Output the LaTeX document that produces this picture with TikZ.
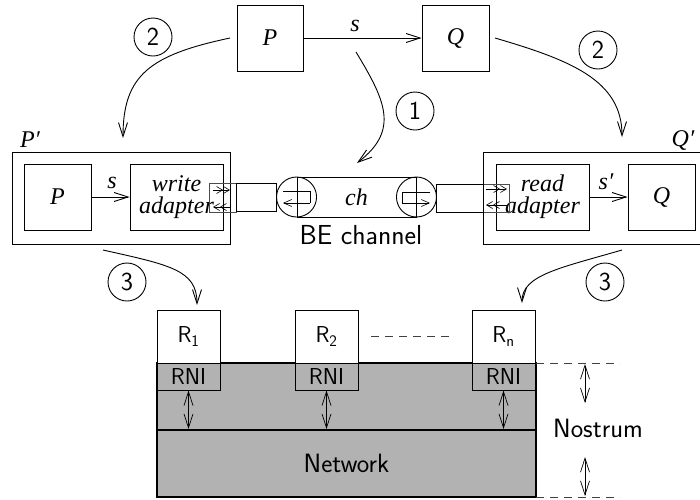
\documentclass[tikz,border=0pt]{standalone}
\usepackage{fontspec}
\newfontfamily\tms{Liberation Serif}
\usetikzlibrary{arrows.meta}
\begin{document}
\begin{tikzpicture}[x=1pt,y=-1pt,line width=0.9pt,
  box/.style={draw, inner sep=0pt, font=\tms\itshape\fontsize{24}{22}\selectfont, align=center},
  lab/.style={inner sep=0pt, font=\tms\itshape\fontsize{24}{22}\selectfont},
  sans/.style={inner sep=0pt, font=\sffamily\fontsize{26.5}{30}\selectfont},
  num/.style={draw, circle, minimum size=38pt, inner sep=0pt, font=\sffamily\fontsize{26}{30}\selectfont},
  arr/.style={-{Straight Barb[length=14pt,width=9pt]}},
  dbl/.style={-{Straight Barb[length=6pt,width=7pt]Straight Barb[length=6pt,width=7pt]}, line width=0.6pt},
  sarr/.style={-{Straight Barb[length=8pt,width=7pt]}, line width=0.6pt},
  both/.style={{Straight Barb[length=14pt,width=9pt]}-{Straight Barb[length=14pt,width=9pt]}, line width=0.7pt},
  port/.style={draw=black!70, line width=0.6pt, inner sep=0pt},
  dsh/.style={dash pattern=on 8pt off 6pt, line width=0.7pt, draw=black!75},
  rbox/.style={draw, inner sep=0pt, minimum width=63pt, font=\sffamily\fontsize{23}{26}\selectfont}
]
\useasboundingbox (0,0) rectangle (700,499);

% top
\node[box, minimum width=66pt, minimum height=66pt] (P) at (270,38) {P};
\node[box, minimum width=67pt, minimum height=66pt] (Q) at (455.5,38) {Q};
\draw[arr] (P) -- (Q);
\node[lab] (s1) at (355,26) {s};

% P'
\node[draw, minimum width=218pt, minimum height=92pt, inner sep=0pt] (Pp) at (121,198) {};
\node[lab] (Pplab) at (30,140) {P′};
\node[box, minimum width=67pt, minimum height=66pt] (Pin) at (57.5,197) {P};
\node[box, minimum width=93pt, minimum height=66pt] (wa) at (176.5,197) {write\\adapter};
\draw[arr] (Pin) -- (wa);
\node[lab] (s2) at (112,183) {s};

% Q'
\node[draw, minimum width=224pt, minimum height=92pt, inner sep=0pt] (Qp) at (595,198) {};
\node[lab] (Qplab) at (683,140) {Q′};
\node[box, minimum width=93pt, minimum height=66pt] (ra) at (542.5,197) {read\\adapter};
\node[box, minimum width=67pt, minimum height=66pt] (Qin) at (661.5,197) {Q};
\draw[arr] (ra) -- (Qin);
\node[lab] (s3) at (606,182) {s′};

% ports and connectors
\node[port, minimum width=27pt, minimum height=29pt] (pl) at (222.5,197.5) {};
\node[port, minimum width=26pt, minimum height=28pt] (pr) at (496,198) {};
\node[draw, inner sep=0pt, minimum width=40pt, minimum height=28pt] (cl) at (256,197) {};
\node[draw, inner sep=0pt, minimum width=47pt, minimum height=28pt] (cr) at (459.5,198) {};
\draw[dbl] (213,190) -- (230,190);
\draw[dbl] (230,207) -- (213,207);
\draw[dbl] (486,189) -- (507,189);
\draw[dbl] (507,205) -- (486,205);

% channel
\node[draw, inner sep=0pt, minimum width=119pt, minimum height=40pt, font=\tms\itshape\fontsize{24}{22}\selectfont] (ch) at (356.5,197) {ch};
\node[draw, circle, inner sep=0pt, minimum size=40pt] (chL) at (ch.west) {};
\node[draw, circle, inner sep=0pt, minimum size=40pt] (chR) at (ch.east) {};
\draw[line width=0.6pt] (283,191) -- (310,191) -- (310,203);
\draw[sarr] (310,203) -- (283,203);
\draw[line width=0.6pt] (430,192) -- (402,192) -- (402,203);
\draw[sarr] (402,203) -- (430,203);
\node[inner sep=0pt, font=\sffamily\fontsize{27.5}{30}\selectfont] (be) at (361,235) {BE channel};

% circled numbers
\node[num] (n1) at (415,111) {1};
\node[num] (n2l) at (153,37) {2};
\node[num] (n2r) at (598,50) {2};
\node[num] (n3l) at (127,282) {3};
\node[num] (n3r) at (605,282) {3};

% curved arrows
\coordinate (a1s) at (356,52);
\coordinate (a1e) at (357,163);
\draw[arr] (a1s) .. controls (385,100) and (400,130) .. (a1e);
\coordinate (a2ls) at (230,38);
\coordinate (a2le) at (123,138);
\draw[arr] (a2ls) .. controls (150,55) and (123,75) .. (a2le);
\coordinate (a2rs) at (495,38);
\coordinate (a2re) at (622,137);
\draw[arr] (a2rs) .. controls (570,60) and (622,80) .. (a2re);
\coordinate (a3ls) at (103,250);
\coordinate (a3le) at (197,305);
\draw[arr] (a3ls) .. controls (170,265) and (197,270) .. (a3le);
\coordinate (a3rs) at (622,250);
\coordinate (a3re) at (522,303);
\draw[arr] (a3rs) .. controls (560,268) and (522,275) .. (a3re);

% Nostrum
\fill[black!30] (157,363) rectangle (536,497);
\draw[line width=1.5pt] (157,430) -- (157,363) -- (536,363) -- (536,430);
\node[draw, line width=2pt, inner sep=0pt, minimum width=379pt, minimum height=67pt, fill=black!30, font=\sffamily\fontsize{26.5}{30}\selectfont] (net) at (346.5,463.5) {Network};

\node[rbox, fill=white, minimum height=53pt] (R1) at (188.5,336.5) {R\textsubscript{1}};
\node[rbox, minimum height=27pt] (I1) at (188.5,376.5) {RNI};
\node[rbox, fill=white, minimum height=53pt] (R2) at (326.5,336.5) {R\textsubscript{2}};
\node[rbox, minimum height=27pt] (I2) at (326.5,376.5) {RNI};
\node[rbox, fill=white, minimum height=53pt] (Rn) at (503.5,336.5) {R\textsubscript{n}};
\node[rbox, minimum height=27pt] (In) at (503.5,376.5) {RNI};
\draw[both] (I1.south) -- (I1.south |- net.north);
\draw[both] (I2.south) -- (I2.south |- net.north);
\draw[both] (In.south) -- (In.south |- net.north);

\draw[dsh] (R2.east) ++(13,0) coordinate (d1) -- ([xshift=-19pt]Rn.west) coordinate (d2);
\coordinate (t1) at (536,363);
\coordinate (t2) at (620,363);
\coordinate (b1) at (536,497);
\coordinate (b2) at (620,497);
\draw[dsh] (t1) -- (t2);
\draw[dsh] (b1) -- (b2);
\node[sans] (nos) at (598,428) {Nostrum};
\coordinate (u1) at (585,364);
\coordinate (u2) at (585,403);
\coordinate (l1) at (585,457);
\coordinate (l2) at (585,496);
\draw[both] (u1) -- (u2);
\draw[both] (l1) -- (l2);
\end{tikzpicture}
\end{document}
